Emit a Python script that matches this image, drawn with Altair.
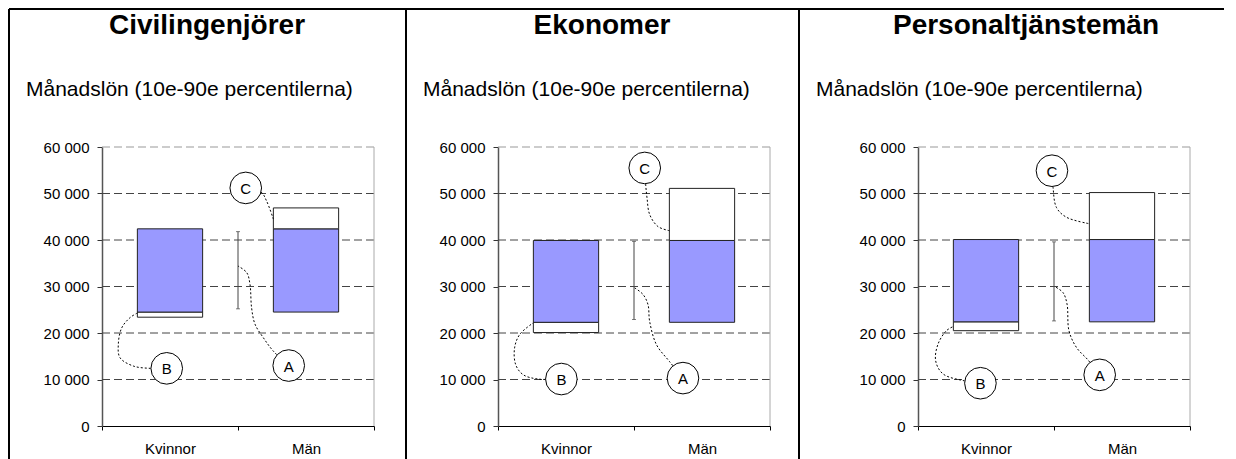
import altair as alt
import pandas as pd

# ---------------- data ----------------
groups = ["Civilingenjörer", "Ekonomer", "Personaltjänstemän"]
subtitle = "Månadslön (10e-90e percentilerna)"
categories = ["Kvinnor", "Män"]
y_ticks = [0, 10000, 20000, 30000, 40000, 50000, 60000]

kv_p10 = [23400, 20100, 20500]
kv_p90 = [42400, 39900, 40100]
man_p10 = [24500, 22300, 22400]
man_p90 = [46900, 51100, 50200]
a_low = [25200, 22900, 22600]
a_high = [41800, 39700, 39600]

letters = ["A", "B", "C"]
circle_x = {"A": [1.373, 1.360, 1.336], "B": [0.476, 0.466, 0.459], "C": [1.057, 1.079, 0.985]}
circle_y = {"A": [13000, 10300, 11000], "B": [12400, 10100, 9200], "C": [51200, 55500, 54900]}

conn_A_x = [[1.26, 1.186, 1.125, 1.10, 1.088, 1.064, 1.0],
            [1.26, 1.165, 1.115, 1.103, 1.066, 1.005],
            [1.25, 1.165, 1.110, 1.096, 1.066, 1.005]]
conn_A_y = [[16100, 19000, 21900, 25400, 30500, 33000, 34400],
            [13900, 17500, 22500, 26100, 28300, 29700],
            [14200, 16900, 20500, 26200, 28700, 30000]]
conn_B_x = [[0.353, 0.230, 0.132, 0.120, 0.145, 0.206, 0.26],
            [0.294, 0.184, 0.130, 0.122, 0.160, 0.26],
            [0.343, 0.184, 0.130, 0.147, 0.209, 0.26]]
conn_B_y = [[12400, 12900, 14700, 17600, 21100, 23300, 24300],
            [10100, 11050, 13200, 16800, 19700, 22200],
            [9700, 11200, 14000, 17600, 20500, 21400]]
conn_C_x = [[1.17, 1.21, 1.26],
            [1.086, 1.096, 1.115, 1.176, 1.26],
            [0.993, 1.018, 1.091, 1.26]]
conn_C_y = [[50300, 48400, 44500],
            [51900, 49000, 45500, 42900, 42000],
            [51300, 47000, 44900, 43500]]
conn_x = {"A": conn_A_x, "B": conn_B_x, "C": conn_C_x}
conn_y = {"A": conn_A_y, "B": conn_B_y, "C": conn_C_y}

# ---------------- style / layout ----------------
FONT = "Liberation Sans"
BLUE = "#9999FF"
W, H = 272, 279
VIEW_W = [272, 296, 272]
HALF = 0.24
TITLE_X = [105, 104, 108]
SUB_X = [-76, -75, -102]
LEFT_B = [-93, -92, -119]
RIGHT_B = [304, 301, 306]
TOP_B = -138
BOTTOM_B = 312

yscale = alt.Scale(domain=[y_ticks[0], y_ticks[-1]], nice=False)

label_expr = "datum.value == 0.5 ? '%s' : datum.value == 1.5 ? '%s' : ''" % (categories[0], categories[1])
xaxis = alt.Axis(
    values=[0, 0.5, 1, 1.5, 2], labelExpr=label_expr,
    tickOpacity={"condition": {"test": "datum.value % 1 !== 0", "value": 0}, "value": 1},
    tickSize=4, tickColor="black", domainColor="black", domainWidth=1,
    labelFontSize=15, labelFont=FONT, labelColor="black", labelPadding=11,
    grid=False, labelOverlap=False, labelFlush=False, title=None,
)
yaxis = alt.Axis(
    values=y_ticks, labelExpr="replace(format(datum.value, ','), ',', ' ')",
    grid=False, domainColor="#555555", domainWidth=1.5, tickColor="#333333", tickSize=5,
    labelFontSize=15, labelFont=FONT, labelColor="black", labelPadding=8, title=None,
)


def panel(i):
    xscale = alt.Scale(domain=[0, 2], range=[0, W], nice=False, zero=False)

    def X(f):
        return alt.X(f, type="quantitative", scale=xscale, axis=xaxis, title=None)

    def Y(f):
        return alt.Y(f, type="quantitative", scale=yscale, axis=yaxis, title=None)

    one = pd.DataFrame({"t": [groups[i]]})
    sub = pd.DataFrame({"t": [subtitle]})
    grid_mid = pd.DataFrame({"v": y_ticks[1:-1]})
    grid_top = pd.DataFrame({"v": y_ticks[-1:]})

    # boxes
    rows = []
    for ci in range(len(categories)):
        c = ci + 0.5
        if ci == 0:
            segs = [(kv_p10[i], man_p10[i], "white"), (man_p10[i], kv_p90[i], BLUE)]
        else:
            segs = [(man_p10[i], kv_p90[i], BLUE), (kv_p90[i], man_p90[i], "white")]
        for lo, hi, col in segs:
            rows.append({"x1": c - HALF, "x2": c + HALF, "y1": lo, "y2": hi, "fill": col})
    boxes = pd.DataFrame(rows)

    arange = pd.DataFrame({"x": [1.0], "y1": [a_low[i]], "y2": [a_high[i]]})
    acaps = pd.DataFrame({"x": [1.0, 1.0], "y": [a_low[i], a_high[i]]})

    circ = pd.DataFrame({
        "x": [circle_x[l][i] for l in letters],
        "y": [circle_y[l][i] for l in letters],
        "label": letters,
    })
    crow = []
    for l in letters:
        xs = [circle_x[l][i]] + conn_x[l][i]
        ys = [circle_y[l][i]] + conn_y[l][i]
        for k, (xx, yy) in enumerate(zip(xs, ys)):
            crow.append({"x": xx, "y": yy, "label": l, "seq": k})
    conn = pd.DataFrame(crow)

    layers = []
    # frame
    layers.append(alt.Chart(one).mark_rule(color="black", strokeWidth=2).encode(
        x=alt.value(LEFT_B[i]), y=alt.value(TOP_B), y2=alt.value(BOTTOM_B)))
    if i < 2:
        layers.append(alt.Chart(one).mark_rule(color="black", strokeWidth=2).encode(
            x=alt.value(RIGHT_B[i]), y=alt.value(TOP_B), y2=alt.value(BOTTOM_B)))
    layers.append(alt.Chart(one).mark_rule(color="black", strokeWidth=2).encode(
        x=alt.value(LEFT_B[i]), x2=alt.value(RIGHT_B[i]), y=alt.value(TOP_B)))
    # texts
    layers.append(alt.Chart(one).mark_text(font=FONT, fontSize=28, fontWeight="bold", color="black",
                                           align="center", baseline="alphabetic").encode(
        x=alt.value(TITLE_X[i]), y=alt.value(-113), text="t:N"))
    layers.append(alt.Chart(sub).mark_text(font=FONT, fontSize=21, color="black",
                                           align="left", baseline="alphabetic").encode(
        x=alt.value(SUB_X[i]), y=alt.value(-51), text="t:N"))
    # dashed gridlines
    layers.append(alt.Chart(grid_mid).mark_rule(color="#444444", strokeWidth=1, strokeDash=[8, 4]).encode(
        x=alt.value(0), x2=alt.value(W), y=Y("v")))
    layers.append(alt.Chart(grid_top).mark_rule(color="#999999", strokeWidth=1, strokeDash=[8, 4]).encode(
        x=alt.value(0), x2=alt.value(W), y=Y("v")))
    # plot area right border
    layers.append(alt.Chart(one).mark_rule(color="#aaaaaa", strokeWidth=1).encode(
        x=alt.value(W), y=alt.value(0), y2=alt.value(H)))
    # boxes
    layers.append(alt.Chart(boxes).mark_rect(stroke="#222222", strokeWidth=1).encode(
        x=X("x1"), x2="x2", y=Y("y1"), y2="y2", fill=alt.Fill("fill:N", scale=None)))
    # A range line
    layers.append(alt.Chart(arange).mark_rule(color="#444444", strokeWidth=1).encode(
        x=X("x"), y=Y("y1"), y2="y2"))
    layers.append(alt.Chart(acaps).mark_tick(orient="horizontal", size=4, thickness=1, color="#444444").encode(
        x=X("x"), y=Y("y")))
    # connectors
    layers.append(alt.Chart(conn).mark_line(color="black", strokeWidth=1, strokeDash=[2, 2],
                                            interpolate="catmull-rom").encode(
        x=X("x"), y=Y("y"), detail="label:N", order="seq:Q"))
    # circles and letters
    layers.append(alt.Chart(circ).mark_point(shape="circle", size=1000, filled=True, fill="white",
                                             stroke="black", strokeWidth=1, opacity=1).encode(
        x=X("x"), y=Y("y")))
    layers.append(alt.Chart(circ).mark_text(font=FONT, fontSize=15, color="black",
                                            align="center", baseline="middle", dy=1).encode(
        x=X("x"), y=Y("y"), text="label:N"))

    return alt.layer(*layers).properties(width=VIEW_W[i], height=H)


chart = alt.hconcat(
    panel(0), panel(1), panel(2), spacing=124, bounds="flush",
).properties(padding=0).configure_view(stroke=None)

chart.save("out.html", embed_options={"renderer": "svg", "actions": False})
